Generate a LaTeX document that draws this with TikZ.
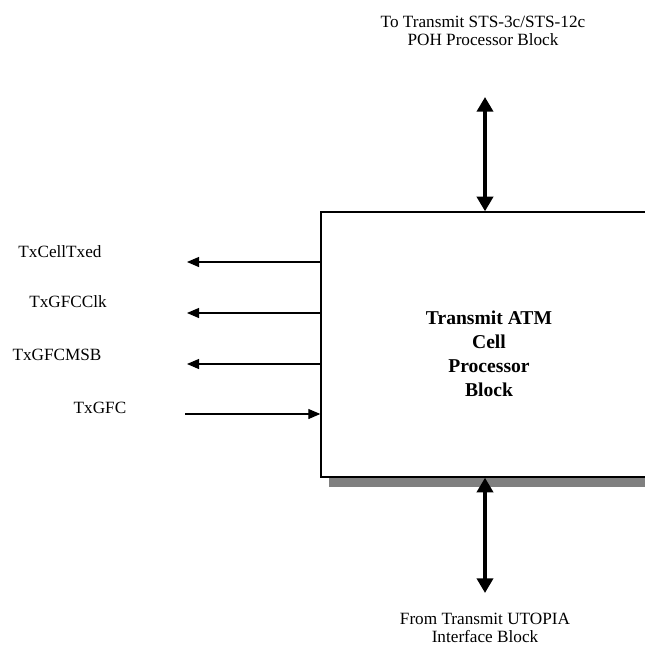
\documentclass[tikz,border=0pt]{standalone}
\usepackage{fontspec}
\setmainfont{Liberation Serif}
\usetikzlibrary{arrows.meta,shadows}

\tikzset{
  blockbox/.style={draw, line width=1pt, fill=white, inner sep=0pt,
    minimum width=252pt, minimum height=198.75pt,
    drop shadow={shadow xshift=6pt, shadow yshift=-7.5pt, fill=black!50, opacity=1}},
  sig/.style={line width=0.8pt, -{Triangle[length=9pt,width=7.5pt]}},
  bus/.style={line width=3pt, {Triangle[length=11pt,width=12pt]}-{Triangle[length=11pt,width=12pt]}},
  lbl/.style={font=\fontsize{12.9}{13.5}\selectfont, align=center, inner sep=0pt}
}

\begin{document}
\begin{tikzpicture}[x=0.75pt, y=-0.75pt]
\useasboundingbox (0,0) rectangle (644,646);

\node[blockbox] (tacp) at (489,344.5) {};
\node[font=\fontsize{14.7}{18}\selectfont\bfseries, align=center] (tacptxt) at (489,354) {Transmit ATM\\Cell\\Processor\\Block};

% busses to the other blocks
\coordinate (poh) at (485,97);
\coordinate (utopia) at (485,593);
\draw[bus] (poh) -- (poh |- tacp.north);
\draw[bus] (utopia |- tacp.south) -- (utopia);
\node[lbl] (pohtxt) at (483,31) {To Transmit STS-3c/STS-12c\\POH Processor Block};
\node[lbl] (utopiatxt) at (485,628) {From Transmit UTOPIA\\Interface Block};

% GFC signals
\coordinate (celltxed) at (187,262);
\coordinate (gfcclk) at (187,313);
\coordinate (gfcmsb) at (187,364);
\coordinate (gfc) at (185,414);
\draw[sig] (tacp.west |- celltxed) -- (celltxed);
\draw[sig] (tacp.west |- gfcclk) -- (gfcclk);
\draw[sig] (tacp.west |- gfcmsb) -- (gfcmsb);
\draw[sig] (gfc) -- (tacp.west |- gfc);
\node[lbl] (celltxedtxt) at (60,252) {TxCellTxed};
\node[lbl] (gfcclktxt) at (68,302) {TxGFCClk};
\node[lbl] (gfcmsbtxt) at (57,355) {TxGFCMSB};
\node[lbl] (gfctxt) at (100,408) {TxGFC};

\end{tikzpicture}
\end{document}
